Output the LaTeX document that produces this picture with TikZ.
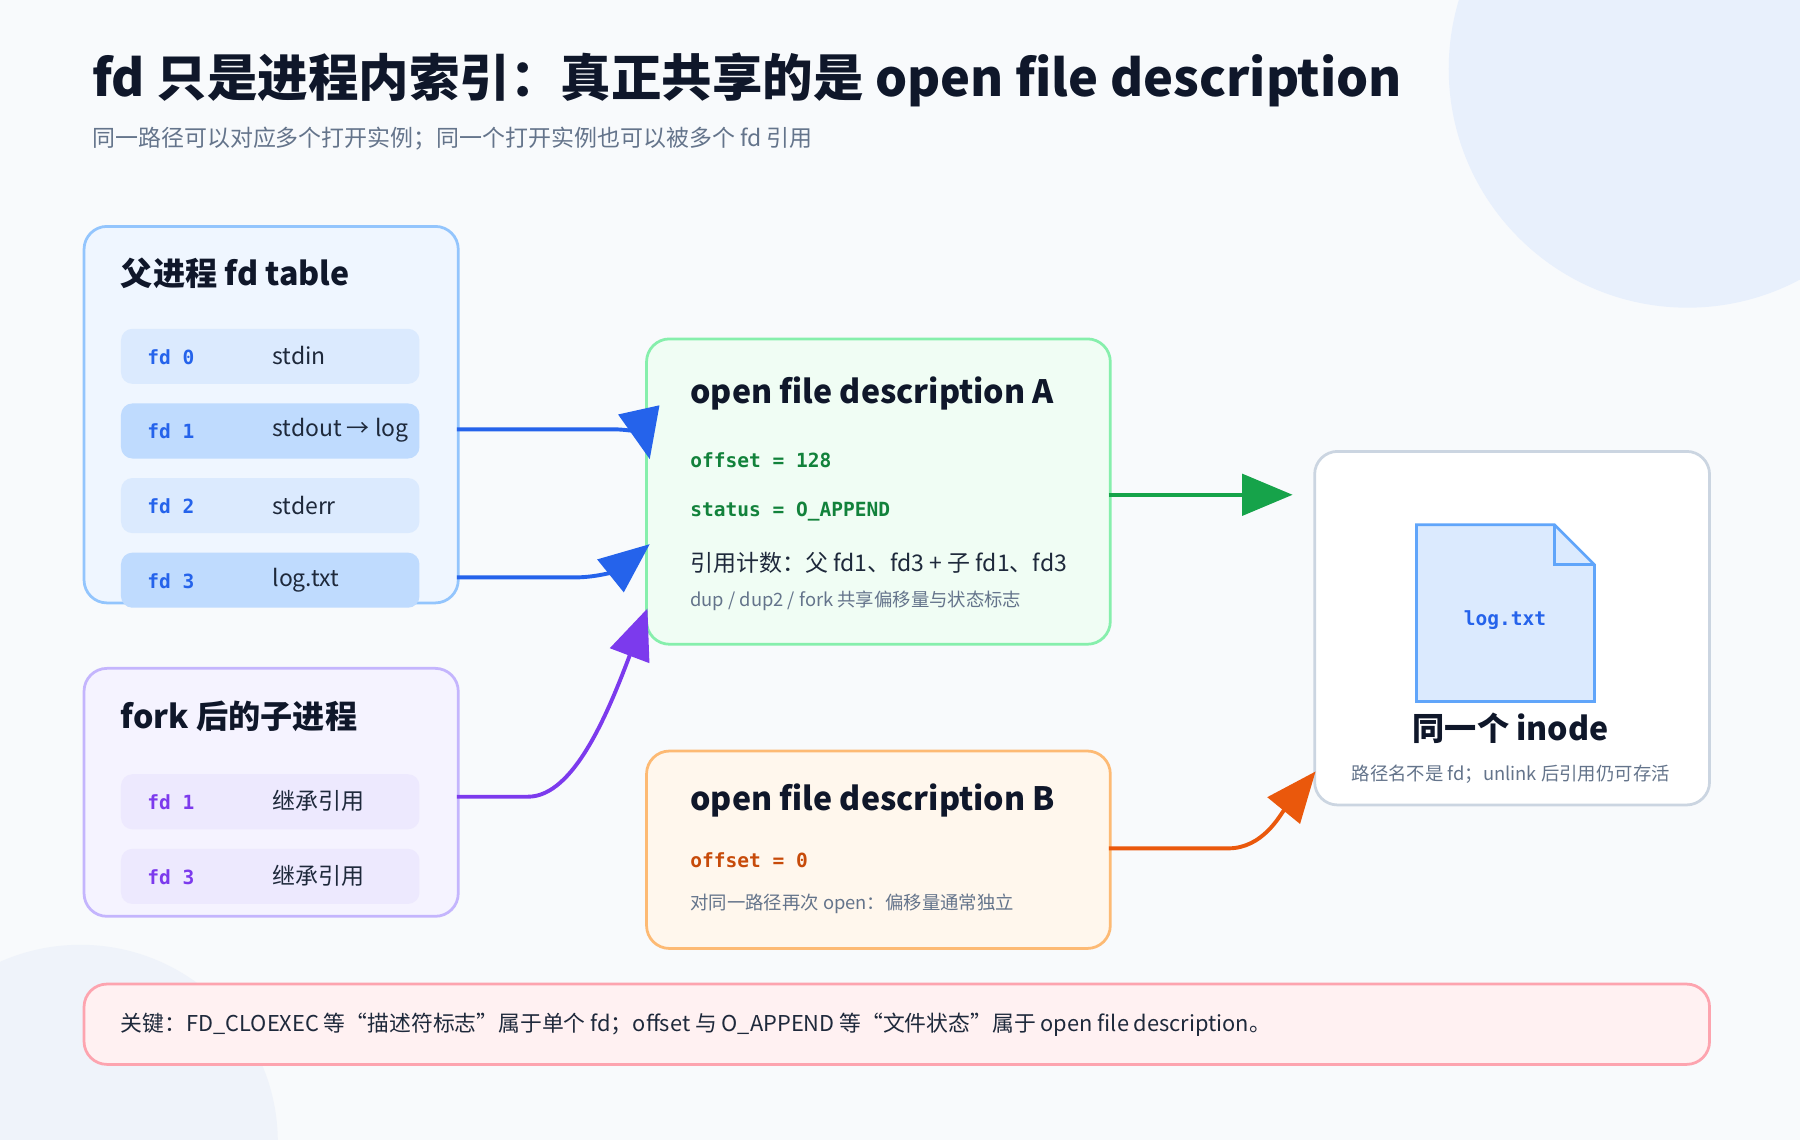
\documentclass[tikz,border=0pt]{standalone}
\usepackage{fontspec}
\setmainfont{Noto Sans CJK SC}
\newfontfamily\monof{DejaVu Sans Mono}
\usetikzlibrary{arrows.meta}
\definecolor{bg}{HTML}{F8FAFC}
\definecolor{ink}{HTML}{0F172A}
\definecolor{gr}{HTML}{64748B}
\definecolor{blu}{HTML}{2563EB}
\definecolor{pur}{HTML}{7C3AED}
\definecolor{grn}{HTML}{16A34A}
\definecolor{org}{HTML}{EA580C}
\definecolor{circ}{HTML}{E8F0FC}
\definecolor{circ2}{HTML}{EFF3FA}
\definecolor{pS}{HTML}{93C5FD}\definecolor{pF}{HTML}{EFF6FF}
\definecolor{cS}{HTML}{C4B5FD}\definecolor{cF}{HTML}{F5F3FF}
\definecolor{aS}{HTML}{86EFAC}\definecolor{aF}{HTML}{F0FDF4}
\definecolor{bS}{HTML}{FDBA74}\definecolor{bF}{HTML}{FFF7ED}
\definecolor{iS}{HTML}{CBD5E1}
\definecolor{kS}{HTML}{FDA4AF}\definecolor{kF}{HTML}{FFF1F2}
\definecolor{fF}{HTML}{DBEAFE}\definecolor{fS}{HTML}{60A5FA}
\definecolor{txt}{HTML}{1E293B}
\newcommand{\fs}[1]{\fontsize{#1}{#1}\selectfont}
\tikzset{
 box/.style={draw=#1, line width=1.2pt, rounded corners=10pt, anchor=north west, inner sep=0pt},
 row/.style={fill=#1, rounded corners=5pt, anchor=north west, minimum width=130pt, minimum height=24pt, inner sep=0pt},
 ttl/.style={anchor=west, inner sep=0pt, font=\fs{14}\bfseries, text=ink},
 lbl/.style={anchor=west, inner sep=0pt, font=\monof\fs{8.5}\bfseries, text=#1},
 rtx/.style={anchor=west, inner sep=0pt, font=\fs{10}, text=txt},
 arr/.style={draw=#1, line width=1.7pt, -{Triangle[length=22pt,width=18pt]}},
}
\begin{document}
\begin{tikzpicture}[x=0.5pt,y=-0.5pt]
\useasboundingbox (0,0) rectangle (1568,993);
\fill[bg] (0,0) rectangle (1568,993);
\begin{scope}
\clip (0,0) rectangle (1568,993);
\fill[circ] (1470,60) circle (208);
\fill[circ2] (70,995) circle (172);
\end{scope}
\node[anchor=west, inner sep=0pt, font=\fs{22}\bfseries, text=ink] (title) at (80,70) {fd 只是进程内索引：真正共享的是 open file description};
\node[anchor=west, inner sep=0pt, font=\fs{10}, text=gr] (sub) at (80,121) {同一路径可以对应多个打开实例；同一个打开实例也可以被多个 fd 引用};
% parent
\node[box=pS, fill=pF, minimum width=163pt, minimum height=164pt] (par) at (72,196) {};
\node[ttl] at (105,238) {父进程 fd table};
\foreach \y/\f/\n/\t in {286/DBEAFE/0/stdin, 351/BFDBFE/1/stdout → log, 416/DBEAFE/2/stderr, 481/BFDBFE/3/log.txt}{
 \definecolor{rc}{HTML}{\f}
 \node[row=rc] (p\n) at (105,\y) {};
 \node[lbl=blu] at (128,\y+25) {fd \n};
 \node[rtx] at (237,\y+24) {\t};
}
% child
\node[box=cS, fill=cF, minimum width=163pt, minimum height=108pt] (chd) at (72,581) {};
\node[ttl] at (105,624) {fork 后的子进程};
\definecolor{rc}{HTML}{EDE9FE}
\foreach \y/\n in {674/1, 739/3}{
 \node[row=rc] (c\n) at (105,\y) {};
 \node[lbl=pur] at (128,\y+25) {fd \n};
 \node[rtx] at (237,\y+24) {继承引用};
}
% OFD A
\node[box=aS, fill=aF, minimum width=202pt, minimum height=133pt] (oa) at (562,294) {};
\node[ttl] at (601,343) {open file description A};
\node[lbl=grn!80!black] at (601,401) {offset = 128};
\node[lbl=grn!80!black] at (601,446) {status = O\_APPEND};
\node[rtx] at (601,490) {引用计数：父 fd1、fd3 + 子 fd1、fd3};
\node[anchor=west, inner sep=0pt, font=\fs{8}, text=gr] at (601,523) {dup / dup2 / fork 共享偏移量与状态标志};
% OFD B
\node[box=bS, fill=bF, minimum width=202pt, minimum height=86pt] (ob) at (562,653) {};
\node[ttl] at (601,697) {open file description B};
\node[lbl=org!85!black] at (601,749) {offset = 0};
\node[anchor=west, inner sep=0pt, font=\fs{8}, text=gr] at (601,787) {对同一路径再次 open：偏移量通常独立};
% inode
\node[box=iS, fill=white, minimum width=172pt, minimum height=154pt] (ino) at (1144,392) {};
\draw[fill=fF, draw=fS, line width=1.2pt] (1234,457) -- (1354,457) -- (1389,492) -- (1389,611) -- (1234,611) -- cycle;
\draw[draw=fS, line width=1.2pt] (1354,457) -- (1354,492) -- (1389,492);
\node[font=\monof\fs{8.5}\bfseries, text=blu] at (1311,540) {log.txt};
\node[font=\fs{14}\bfseries, text=ink] at (1316,634) {同一个 inode};
\node[font=\fs{8}, text=gr] at (1316,674) {路径名不是 fd；unlink 后引用仍可存活};
% banner
\node[box=kS, fill=kF, minimum width=708pt, minimum height=35pt] (ban) at (72,856) {};
\node[anchor=west, inner sep=0pt, font=\fs{9.5}, text=txt] at (105,893) {关键：FD\_CLOEXEC 等“描述符标志”属于单个 fd；offset 与 O\_APPEND 等“文件状态”属于 open file description。};
% arrows
\coordinate (a1s) at (398,374); \coordinate (a1e) at (566,400);
\coordinate (a2s) at (398,503); \coordinate (a2e) at (566,474);
\coordinate (a3s) at (398,694); \coordinate (a3e) at (564,530);
\coordinate (a4s) at (966,431); \coordinate (a4e) at (1126,431);
\coordinate (a5s) at (966,739); \coordinate (a5e) at (1146,672);
\draw[arr=blu] (a1s) -- (535,374) .. controls (555,374) and (562,382) .. (a1e);
\draw[arr=blu] (a2s) -- (500,503) .. controls (525,503) and (540,495) .. (a2e);
\draw[arr=pur] (a3s) -- (460,694) .. controls (500,694) and (530,620) .. (a3e);
\draw[arr=grn] (a4s) -- (a4e);
\draw[arr=org] (a5s) -- (1070,739) .. controls (1100,739) and (1115,710) .. (a5e);
\end{tikzpicture}
\end{document}
